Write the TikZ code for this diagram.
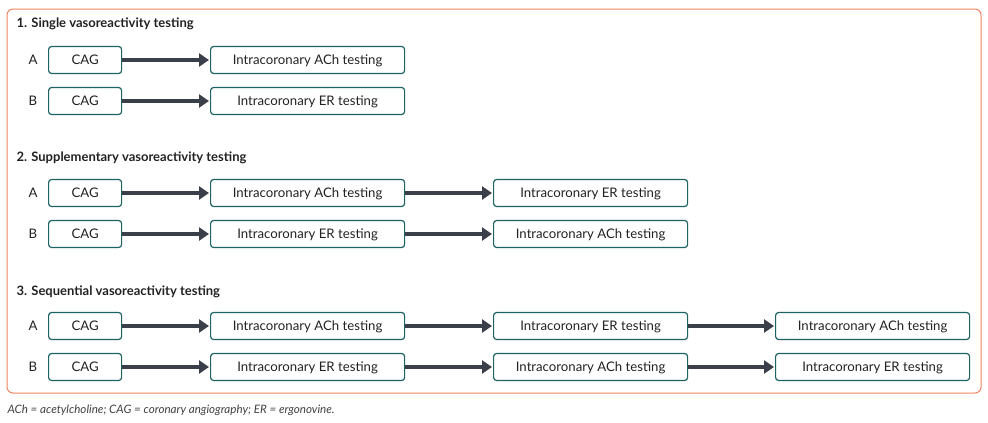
\documentclass[tikz,border=0pt]{standalone}
\usepackage{fontspec}
\setmainfont{Lato}
\usetikzlibrary{arrows.meta}
\definecolor{frame}{HTML}{F0845F}
\definecolor{boxc}{HTML}{1D6363}
\definecolor{arr}{HTML}{3A3F4A}
\definecolor{txt}{HTML}{222222}
\tikzset{
  bx/.style={draw=boxc, line width=1.2pt, rounded corners=3pt, minimum height=27pt, inner sep=0pt, font=\fontsize{13.2}{15}\selectfont, text=txt, anchor=west, text height=9.4pt, text depth=0pt},
  cag/.style={bx, minimum width=73pt},
  wide/.style={bx, minimum width=194pt},
  lbl/.style={font=\fontsize{13.2}{15}\selectfont, text=txt, text height=9.4pt, text depth=0pt, inner sep=0pt},
  head/.style={font=\bfseries\fontsize{13}{15}\selectfont, text=txt, anchor=west, text height=9.3pt, text depth=0pt, inner ysep=0pt},
  arw/.style={draw=arr, line width=4pt, -{Triangle[length=10pt,width=13pt]}, shorten >=1pt},
  foot/.style={font=\itshape\fontsize{11.6}{13}\selectfont, text=black!75, anchor=west, text height=8.4pt, text depth=0pt, inner ysep=0pt}
}
\begin{document}
\begin{tikzpicture}[x=1pt,y=-1pt]
\useasboundingbox (0,0) rectangle (988,423);
\draw[frame, line width=1pt, rounded corners=6pt] (7,9) rectangle (981,393);
\node[head] (h1) at (13,23) {1. Single vasoreactivity testing};
\node[head] (h2) at (13,157) {2. Supplementary vasoreactivity testing};
\node[head] (h3) at (13,291) {3. Sequential vasoreactivity testing};
% section 1
\node[lbl] (la1) at (33,60) {A};
\node[cag] (c1) at (48,60) {CAG};
\node[wide] (a1) at (210,60) {Intracoronary ACh testing};
\draw[arw] (c1) -- (a1);
\node[lbl] (lb1) at (33,101) {B};
\node[cag] (c2) at (48,101) {CAG};
\node[wide] (b1) at (210,101) {Intracoronary ER testing};
\draw[arw] (c2) -- (b1);
% section 2
\node[lbl] (la2) at (33,193) {A};
\node[cag] (c3) at (48,193) {CAG};
\node[wide] (a2) at (210,193) {Intracoronary ACh testing};
\node[wide] (a2b) at (493,193) {Intracoronary ER testing};
\draw[arw] (c3) -- (a2);
\draw[arw] (a2) -- (a2b);
\node[lbl] (lb2) at (33,234) {B};
\node[cag] (c4) at (48,234) {CAG};
\node[wide] (b2) at (210,234) {Intracoronary ER testing};
\node[wide] (b2b) at (493,234) {Intracoronary ACh testing};
\draw[arw] (c4) -- (b2);
\draw[arw] (b2) -- (b2b);
% section 3
\node[lbl] (la3) at (33,326) {A};
\node[cag] (c5) at (48,326) {CAG};
\node[wide] (a3) at (210,326) {Intracoronary ACh testing};
\node[wide] (a3b) at (493,326) {Intracoronary ER testing};
\node[wide] (a3c) at (775,326) {Intracoronary ACh testing};
\draw[arw] (c5) -- (a3);
\draw[arw] (a3) -- (a3b);
\draw[arw] (a3b) -- (a3c);
\node[lbl] (lb3) at (33,367) {B};
\node[cag] (c6) at (48,367) {CAG};
\node[wide] (b3) at (210,367) {Intracoronary ER testing};
\node[wide] (b3b) at (493,367) {Intracoronary ACh testing};
\node[wide] (b3c) at (775,367) {Intracoronary ER testing};
\draw[arw] (c6) -- (b3);
\draw[arw] (b3) -- (b3b);
\draw[arw] (b3b) -- (b3c);
\node[foot] (fn) at (4,409) {ACh = acetylcholine; CAG = coronary angiography; ER = ergonovine.};
\end{tikzpicture}
\end{document}
